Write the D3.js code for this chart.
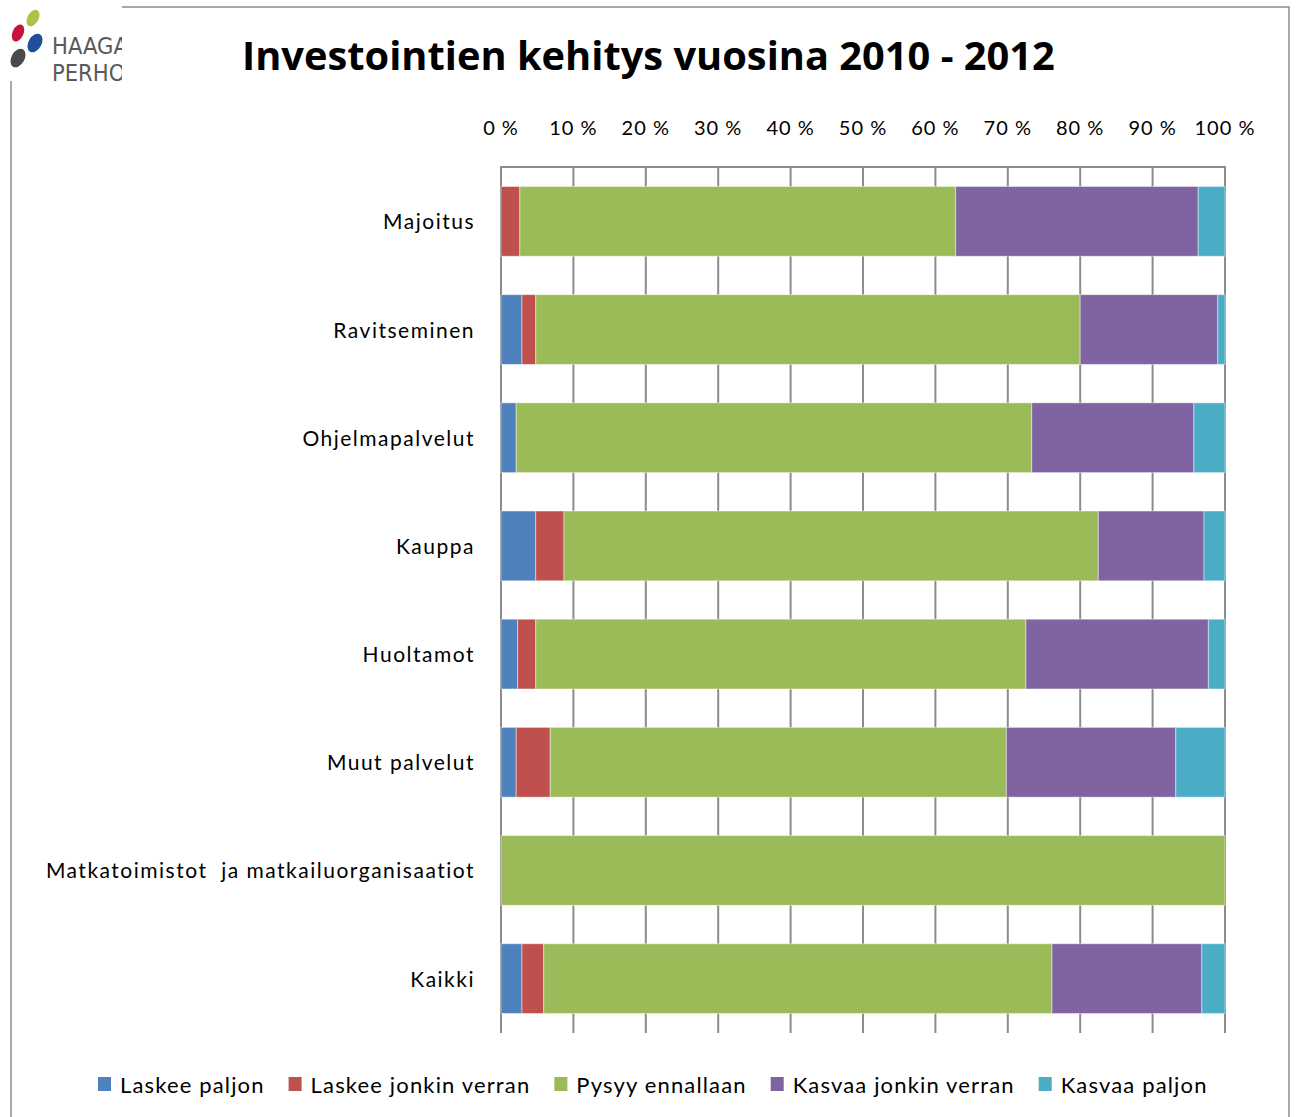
<!DOCTYPE html>
<html><head><meta charset="utf-8">
<script src="https://cdn.jsdelivr.net/npm/d3@7"></script>
<style>html,body{margin:0;padding:0;background:#fff}svg{display:block}</style>
</head><body>
<svg id="c" width="1296" height="1117"></svg>
<script>
const categories = ["Majoitus","Ravitseminen","Ohjelmapalvelut","Kauppa","Huoltamot","Muut palvelut","Matkatoimistot  ja matkailuorganisaatiot","Kaikki"];
const seriesNames = ["Laskee paljon","Laskee jonkin verran","Pysyy ennallaan","Kasvaa jonkin verran","Kasvaa paljon"];
const seriesColors = ["#4F81BD","#C0504D","#9BBB59","#8064A2","#4BACC6"];
const laskeePaljon       = [0,   2.9, 2.1, 4.8, 2.3, 2.1, 0,   2.9];
const laskeeJonkinVerran = [2.6, 1.9, 0,   3.9, 2.5, 4.7, 0,   3.0];
const pysyyEnnallaan     = [60.2,75.2,71.2,73.8,67.7,63.0,100, 70.2];
const kasvaaJonkinVerran = [33.5,19.0,22.4,14.6,25.2,23.4,0,   20.7];
const kasvaaPaljon       = [3.7, 1.0, 4.3, 2.9, 2.3, 6.8, 0,   3.2];
const tickValues = [0,10,20,30,40,50,60,70,80,90,100];
const tickLabels = ["0 %","10 %","20 %","30 %","40 %","50 %","60 %","70 %","80 %","90 %","100 %"];
const title = "Investointien kehitys vuosina 2010 - 2012";

const svg = d3.select("#c");
const font = "Lato, 'Open Sans', sans-serif";

// frame
svg.append("path").attr("d","M11,1117 V7 H1289 V1117").attr("fill","none").attr("stroke","#8c8c8c").attr("stroke-width",1.5);

// logo
const logo = svg.append("g");
logo.append("rect").attr("x",8).attr("y",3).attr("width",114).attr("height",78).attr("fill","#fff");
const dots = [[33,18,5.5,9,30,"#A8C545"],[18,33,5.5,9,25,"#C4143C"],[35,43,6.5,10,30,"#1F4E9A"],[18,58,6.5,10,30,"#4A4A4A"]];
dots.forEach(d=>logo.append("ellipse").attr("cx",d[0]).attr("cy",d[1]).attr("rx",d[2]).attr("ry",d[3])
  .attr("transform",`rotate(${d[4]},${d[0]},${d[1]})`).attr("fill",d[5]));
svg.append("clipPath").attr("id","lc").append("rect").attr("x",0).attr("y",0).attr("width",122).attr("height",81);
const lt = logo.append("g").attr("clip-path","url(#lc)");
lt.append("text").attr("x",52).attr("y",54).text("HAAGA").attr("font-family","'Liberation Sans Narrow','DejaVu Sans Condensed',sans-serif").attr("font-size",23.5).attr("fill","#5a5a5a");
lt.append("text").attr("x",52).attr("y",81).text("PERHO").attr("font-family","'Liberation Sans Narrow','DejaVu Sans Condensed',sans-serif").attr("font-size",23.5).attr("fill","#5a5a5a");

// title
const tt = svg.append("text").attr("x",242).attr("y",70).text(title)
  .attr("font-family","'Open Sans', Lato, sans-serif").attr("font-weight","bold").attr("font-size",40).attr("fill","#000");
{ const w = tt.node().getComputedTextLength(); tt.attr("font-size", 40*813/w); }

// scales
const x = d3.scaleLinear().domain([0,100]).range([501,1225]);
const y = d3.scaleBand().domain(categories).range([167,1033]).paddingInner(0.355).paddingOuter(0.18);

// gridlines
svg.append("g").selectAll("line").data(tickValues).join("line")
  .attr("x1",d=>x(d)).attr("x2",d=>x(d)).attr("y1",167).attr("y2",1033)
  .attr("stroke","#8c8c8c").attr("stroke-width",2);
svg.append("line").attr("x1",x(0)-1).attr("x2",x(100)+1).attr("y1",167).attr("y2",167).attr("stroke","#8c8c8c").attr("stroke-width",2);

// top axis labels
svg.append("g").selectAll("text").data(tickValues).join("text")
  .attr("x",d=>x(d)).attr("y",135).attr("text-anchor","middle")
  .attr("font-family",font).attr("font-size",20).attr("letter-spacing","1px").attr("fill","#000")
  .text((d,i)=>tickLabels[i]);

// stacked bars
const values = [laskeePaljon, laskeeJonkinVerran, pysyyEnnallaan, kasvaaJonkinVerran, kasvaaPaljon];
const rows = categories.map((c,i)=>{const o={cat:c}; seriesNames.forEach((s,j)=>o[s]=values[j][i]); return o;});
const stack = d3.stack().keys(seriesNames)(rows);
svg.append("g").selectAll("g").data(stack).join("g")
  .attr("fill",(d,i)=>seriesColors[i])
  .selectAll("rect").data(d=>d.filter(p=>p[1]-p[0]>0)).join("rect")
  .attr("x",d=>x(d[0])).attr("width",d=>x(d[1])-x(d[0]))
  .attr("y",d=>y(d.data.cat)).attr("height",y.bandwidth())
  .attr("stroke","rgba(255,255,255,0.45)").attr("stroke-width",1);

// category labels
svg.append("g").selectAll("text").data(categories).join("text")
  .attr("x",475).attr("y",d=>y(d)+y.bandwidth()/2+8).attr("text-anchor","end")
  .attr("font-family",font).attr("font-size",21).attr("letter-spacing","1.5px").attr("fill","#000")
  .attr("xml:space","preserve").style("white-space","pre")
  .text(d=>d);

// legend
const lg = svg.append("g");
let lx = 98;
seriesNames.forEach((s,i)=>{
  lg.append("rect").attr("x",lx).attr("y",1077).attr("width",13).attr("height",14).attr("fill",seriesColors[i]);
  const t = lg.append("text").attr("x",lx+22).attr("y",1093).text(s)
    .attr("font-family",font).attr("font-size",22).attr("letter-spacing","1.15px").attr("fill","#000");
  lx += 22 + t.node().getComputedTextLength() + 24;
});
</script>
</body></html>
